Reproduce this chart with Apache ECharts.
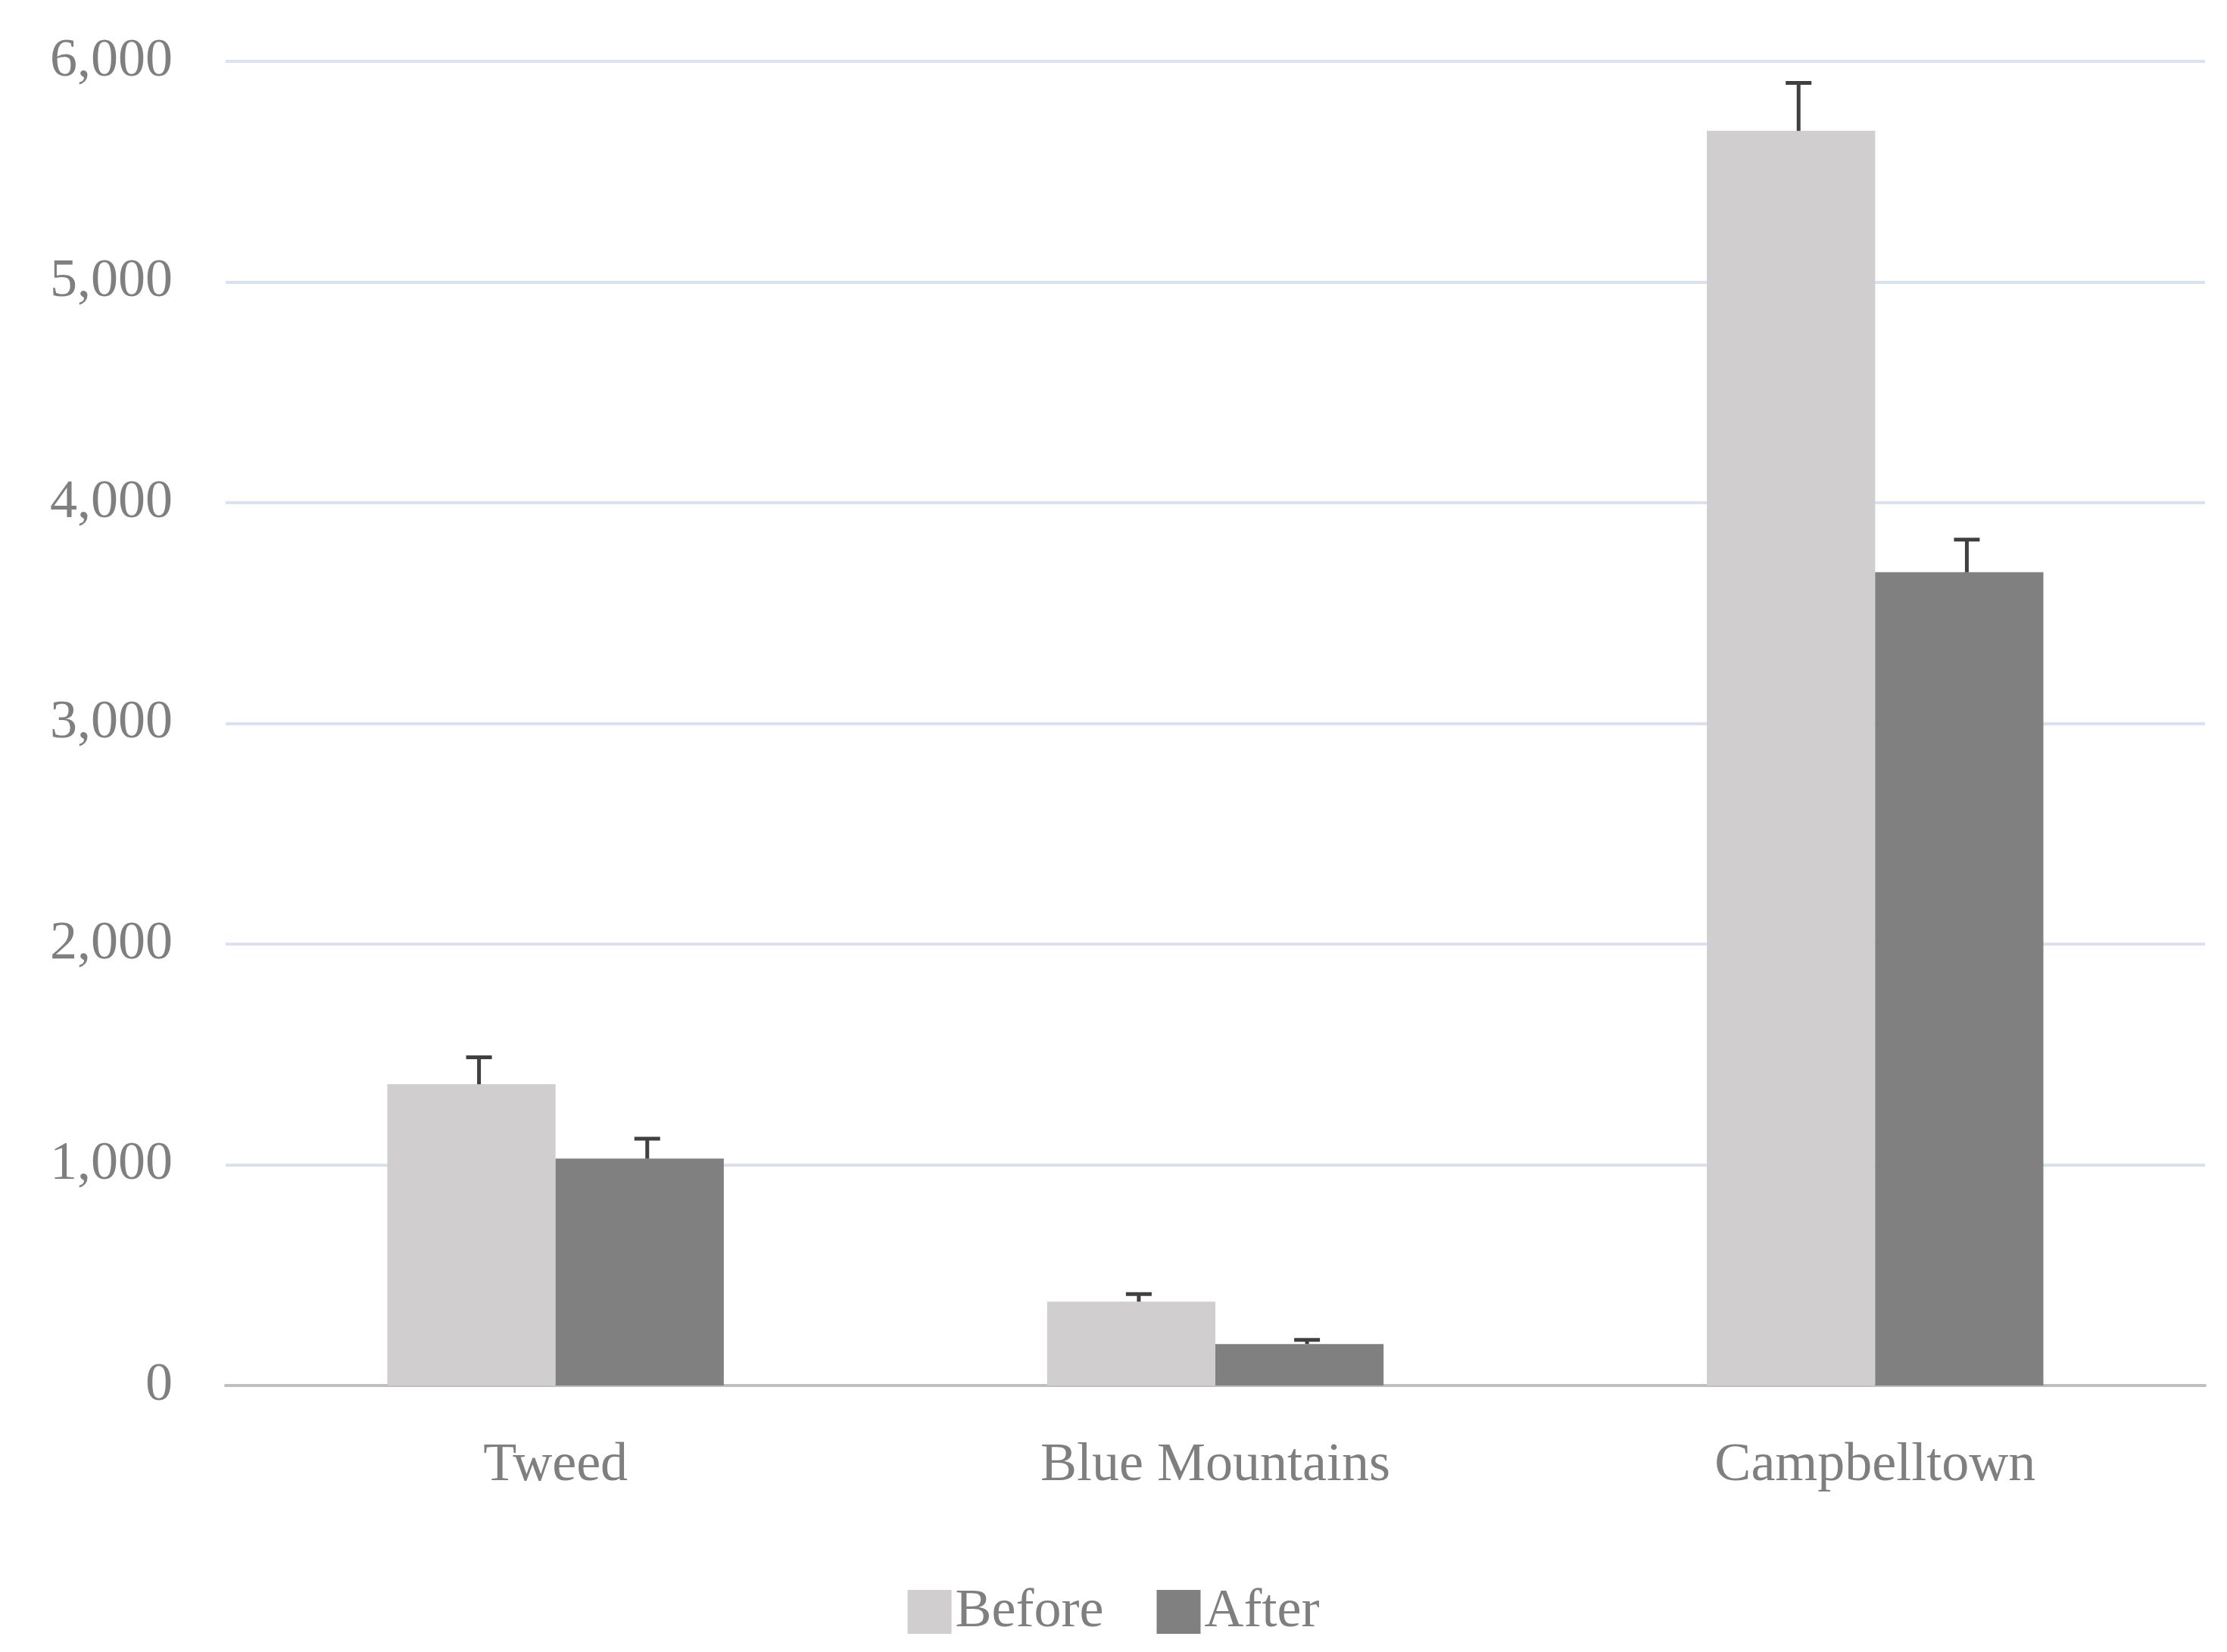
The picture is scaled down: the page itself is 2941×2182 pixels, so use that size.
<!DOCTYPE html>
<html><head><meta charset="utf-8">
<script src="https://cdn.jsdelivr.net/npm/echarts@6/dist/echarts.min.js"></script>
<style>html,body{margin:0;background:#fff}#c{width:2941px;height:2182px}</style>
</head><body><div id="c"></div>
<script>
const categories = ['Tweed', 'Blue Mountains', 'Campbelltown'];
const beforeValues = [1365, 380, 5685];
const afterValues = [1028, 188, 3685];
const beforeErrTop = [1487, 414, 5902];
const afterErrTop = [1118, 207, 3833];
const yTicks = [0, 1000, 2000, 3000, 4000, 5000, 6000];

const FONT = '"Liberation Serif", "DejaVu Serif", serif';
const BW = 0.255;
function errSeries(vals, tops, side) {
  return {
    type: 'custom', z: 5,
    data: vals.map((v, i) => [i, v, tops[i]]),
    renderItem: function (params, api) {
      const band = api.size([1, 0])[0];
      const base = api.coord([api.value(0), api.value(1)]);
      const top = api.coord([api.value(0), api.value(2)]);
      const x = base[0] + side * band * BW / 2 + 10;
      const cap = 17;
      const st = { stroke: '#404040', lineWidth: 5 };
      return { type: 'group', children: [
        { type: 'line', shape: { x1: x, y1: base[1], x2: x, y2: top[1] }, style: st },
        { type: 'line', shape: { x1: x - cap, y1: top[1], x2: x + cap, y2: top[1] }, style: st }
      ]};
    }
  };
}
const chart = echarts.init(document.getElementById('c'));
chart.setOption({
  animation: false,
  grid: { left: 298, right: 29, top: 81, bottom: 352 },
  legend: {
    bottom: 12, left: 'center', itemWidth: 58, itemHeight: 58, itemGap: 70,
    icon: 'rect',
    textStyle: { fontFamily: FONT, fontSize: 72, color: '#7f7f7f' },
    data: ['Before', 'After']
  },
  xAxis: {
    type: 'category', data: categories,
    axisLine: { lineStyle: { color: '#bfbfbf', width: 4 } },
    axisTick: { show: false },
    axisLabel: { fontFamily: FONT, fontSize: 72, color: '#7f7f7f', margin: 70 }
  },
  yAxis: {
    type: 'value', min: yTicks[0], max: yTicks[yTicks.length - 1], interval: 1000,
    axisLine: { show: false }, axisTick: { show: false },
    splitLine: { lineStyle: { color: '#d9e1f2', width: 4 } },
    axisLabel: { fontFamily: FONT, fontSize: 72, color: '#7f7f7f', margin: 70 }
  },
  series: [
    { name: 'Before', type: 'bar', data: beforeValues, barWidth: (BW * 100) + '%', barGap: '0%',
      itemStyle: { color: '#d0cece' } },
    { name: 'After', type: 'bar', data: afterValues, barWidth: (BW * 100) + '%', barGap: '0%',
      itemStyle: { color: '#808080' } },
    errSeries(beforeValues, beforeErrTop, -1),
    errSeries(afterValues, afterErrTop, 1)
  ]
});
</script></body></html>
